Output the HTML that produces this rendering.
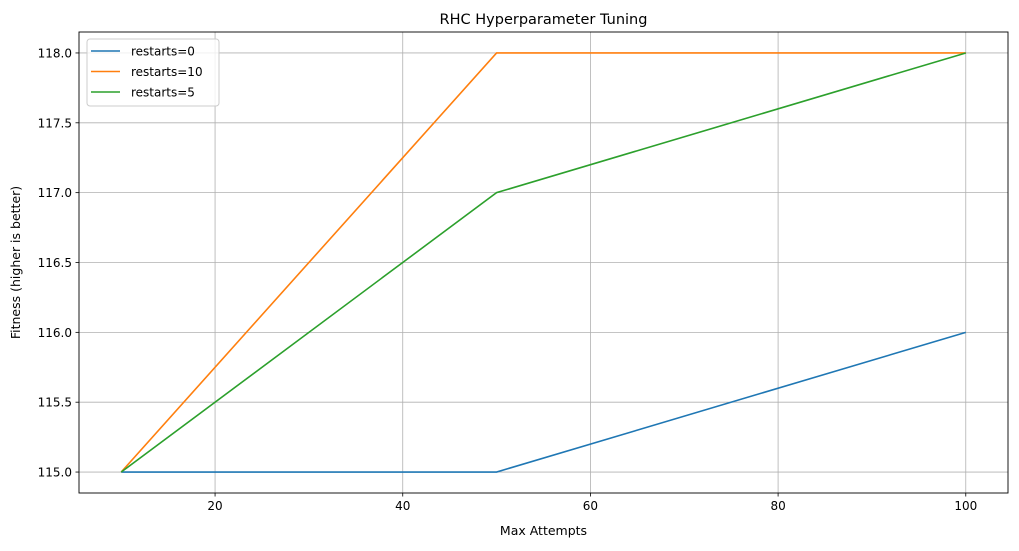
<!DOCTYPE html>
<html><head><meta charset="utf-8"><style>
body{margin:0;background:#fff;font-family:"DejaVu Sans","Liberation Sans",sans-serif;}
svg text{font-family:"DejaVu Sans","Liberation Sans",sans-serif;fill:#000;}
</style></head><body>
<svg id="chart" width="1019" height="547" xmlns="http://www.w3.org/2000/svg"></svg>
<script>
const xValues=[10,50,100];
const seriesNames=["restarts=0","restarts=10","restarts=5"];
const series0=[115,115,116];
const series10=[115,118,118];
const series5=[115,117,118];
const xTicks=[20,40,60,80,100];
const yTicks=[115.0,115.5,116.0,116.5,117.0,117.5,118.0];
const colors=["#1f77b4","#ff7f0e","#2ca02c"];
const L=79,R=1008,T=32,B=493;
const xMin=5.5,xMax=104.5,yMin=114.85,yMax=118.15;
const sx=v=>L+(v-xMin)/(xMax-xMin)*(R-L);
const sy=v=>B-(v-yMin)/(yMax-yMin)*(B-T);
const svg=document.getElementById('chart');
const NS="http://www.w3.org/2000/svg";
function mk(tag,attrs,parent){const e=document.createElementNS(NS,tag);for(const k in attrs)e.setAttribute(k,attrs[k]);(parent||svg).appendChild(e);return e;}
const grid=mk('g',{});


xTicks.forEach(t=>{const x=sx(t);
 mk('line',{x1:x,x2:x,y1:T,y2:B,stroke:'#b0b0b0','stroke-width':0.8},grid);
 mk('line',{x1:x,x2:x,y1:B,y2:B+3.5,stroke:'#000','stroke-width':0.8});
 const tx=mk('text',{x:x,y:B+17,'text-anchor':'middle','font-size':12});tx.textContent=t;
 
 
});
yTicks.forEach(t=>{const y=sy(t);
 mk('line',{x1:L,x2:R,y1:y,y2:y,stroke:'#b0b0b0','stroke-width':0.8},grid);
 mk('line',{x1:L-3.5,x2:L,y1:y,y2:y,stroke:'#000','stroke-width':0.8});
 const tx=mk('text',{x:L-7,y:y+4.5,'text-anchor':'end','font-size':12});tx.textContent=t.toFixed(1);
 
 
});
[series0,series10,series5].forEach((s,i)=>{
 const p=mk('polyline',{points:s.map((v,j)=>sx(xValues[j])+','+sy(v)).join(' '),fill:'none',stroke:colors[i],'stroke-width':1.6});
 
 
});
const frame=mk('rect',{x:L,y:T,width:R-L,height:B-T,fill:'none',stroke:'#000','stroke-width':0.9});


const title=mk('text',{x:(L+R)/2,y:T-8,'text-anchor':'middle','font-size':14.5});title.textContent='RHC Hyperparameter Tuning';


const xl=mk('text',{x:(L+R)/2,y:535,'text-anchor':'middle','font-size':12.5});xl.textContent='Max Attempts';


const yl=mk('text',{x:0,y:0,'text-anchor':'middle','font-size':12.5,transform:'translate(20,'+((T+B)/2)+') rotate(-90)'});yl.textContent='Fitness (higher is better)';


const lg=mk('g',{});


mk('rect',{x:87,y:39,width:132,height:67,rx:3,fill:'#fff','fill-opacity':0.8,stroke:'#ccc','stroke-width':1},lg);
seriesNames.forEach((n,i)=>{const y=51+i*20.5;
 mk('line',{x1:91,x2:120,y1:y,y2:y,stroke:colors[i],'stroke-width':1.6},lg);
 const t=mk('text',{x:131,y:y+4.5,'font-size':12},lg);t.textContent=n;
 
 
});
</script>
</body></html>
